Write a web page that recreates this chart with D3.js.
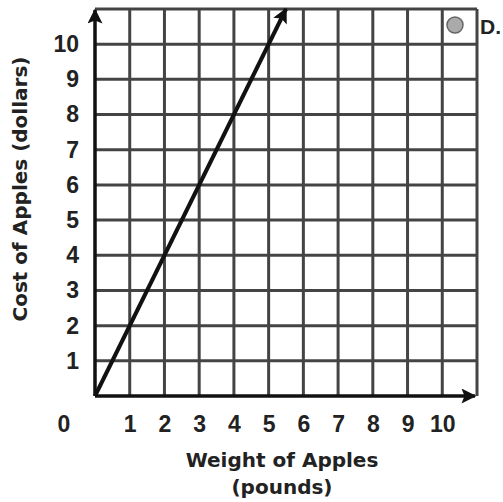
<!DOCTYPE html>
<html>
<head>
<meta charset="utf-8">
<script src="https://cdn.jsdelivr.net/npm/d3@7"></script>
<style>
  body { margin: 0; background: #fff; }
  svg { display: block; }
</style>
</head>
<body>
<div id="chart"></div>
<script>
"use strict";

// Data
const weights = [0, 5.5];          // pounds
const costs = [0, 11];             // dollars
const xTicks = [1, 2, 3, 4, 5, 6, 7, 8, 9, 10];
const yTicks = [1, 2, 3, 4, 5, 6, 7, 8, 9, 10];
const gridSteps = [1, 2, 3, 4, 5, 6, 7, 8, 9, 10, 11];
const xTitle = ["Weight of Apples", "(pounds)"];
const yTitle = "Cost of Apples (dollars)";
const optionLabel = "D.";

const width = 503;
const height = 502;

const x = d3.scaleLinear().domain([0, 11]).range([95, 477]);
const y = d3.scaleLinear().domain([0, 11]).range([396, 9]);

const svg = d3.select("#chart")
  .append("svg")
  .attr("width", width)
  .attr("height", height);

const defs = svg.append("defs");
defs.append("marker")
  .attr("id", "arrow")
  .attr("viewBox", "0 0 10 10")
  .attr("refX", 9)
  .attr("refY", 5)
  .attr("markerUnits", "userSpaceOnUse")
  .attr("markerWidth", 18)
  .attr("markerHeight", 15)
  .attr("orient", "auto")
  .append("path")
  .attr("d", "M0,0 L10,5 L0,10 L2,5 Z")
  .attr("fill", "#111");

// grid
const grid = svg.append("g").attr("stroke", "#444").attr("stroke-width", 3);
grid.selectAll(".v")
  .data(gridSteps)
  .join("line")
  .attr("x1", d => x(d))
  .attr("x2", d => x(d))
  .attr("y1", y(0))
  .attr("y2", y(11));
grid.selectAll(".h")
  .data(gridSteps)
  .join("line")
  .attr("x1", x(0))
  .attr("x2", x(11))
  .attr("y1", d => y(d))
  .attr("y2", d => y(d));

// axes lines with arrows
svg.append("line")
  .attr("x1", x(0)).attr("y1", y(0))
  .attr("x2", x(0)).attr("y2", y(11) + 1)
  .attr("stroke", "#111").attr("stroke-width", 3.5)
  .attr("marker-end", "url(#arrow)");
svg.append("line")
  .attr("x1", x(0)).attr("y1", y(0))
  .attr("x2", x(11) - 2).attr("y2", y(0))
  .attr("stroke", "#111").attr("stroke-width", 3.5)
  .attr("marker-end", "url(#arrow)");

// tick labels
const tickFont = "'Liberation Sans', Arial, sans-serif";
const xAxis = svg.append("g")
  .attr("transform", `translate(0,${y(0)})`)
  .call(d3.axisBottom(x).tickValues(xTicks).tickSize(0).tickPadding(20));
const yAxis = svg.append("g")
  .attr("transform", `translate(${x(0)},0)`)
  .call(d3.axisLeft(y).tickValues(yTicks).tickSize(0).tickPadding(16));
[xAxis, yAxis].forEach(a => {
  a.select(".domain").remove();
  a.selectAll("text")
    .attr("font-family", tickFont)
    .attr("font-weight", "bold")
    .attr("font-size", 23)
    .attr("fill", "#222");
});

// origin label
svg.append("text")
  .attr("x", x(0) - 31)
  .attr("y", y(0) + 36)
  .attr("text-anchor", "middle")
  .attr("font-family", tickFont)
  .attr("font-weight", "bold")
  .attr("font-size", 23)
  .attr("fill", "#222")
  .text("0");

// data line
const line = d3.line().x((d, i) => x(weights[i])).y((d, i) => y(costs[i]));
svg.append("path")
  .datum(weights)
  .attr("d", line)
  .attr("fill", "none")
  .attr("stroke", "#111")
  .attr("stroke-width", 4)
  .attr("marker-end", "url(#arrow)");

// axis titles
const titleFont = "'DejaVu Sans', Verdana, sans-serif";
svg.append("text")
  .attr("x", 282)
  .attr("font-family", titleFont)
  .attr("font-weight", "bold")
  .attr("font-size", 20)
  .attr("fill", "#222")
  .attr("text-anchor", "middle")
  .selectAll("tspan")
  .data(xTitle)
  .join("tspan")
  .attr("x", 282)
  .attr("y", (d, i) => 467 + i * 27)
  .text(d => d);

svg.append("text")
  .attr("transform", "translate(27,189) rotate(-90)")
  .attr("text-anchor", "middle")
  .attr("font-family", titleFont)
  .attr("font-weight", "bold")
  .attr("font-size", 20)
  .attr("fill", "#222")
  .text(yTitle);

// answer option marker
svg.append("circle")
  .attr("cx", 455)
  .attr("cy", 25)
  .attr("r", 8)
  .attr("fill", "#aaa")
  .attr("stroke", "#666")
  .attr("stroke-width", 1.5);
svg.append("text")
  .attr("x", 480)
  .attr("y", 34)
  .attr("font-family", tickFont)
  .attr("font-weight", "bold")
  .attr("font-size", 21)
  .attr("fill", "#222")
  .text(optionLabel);
</script>
</body>
</html>
